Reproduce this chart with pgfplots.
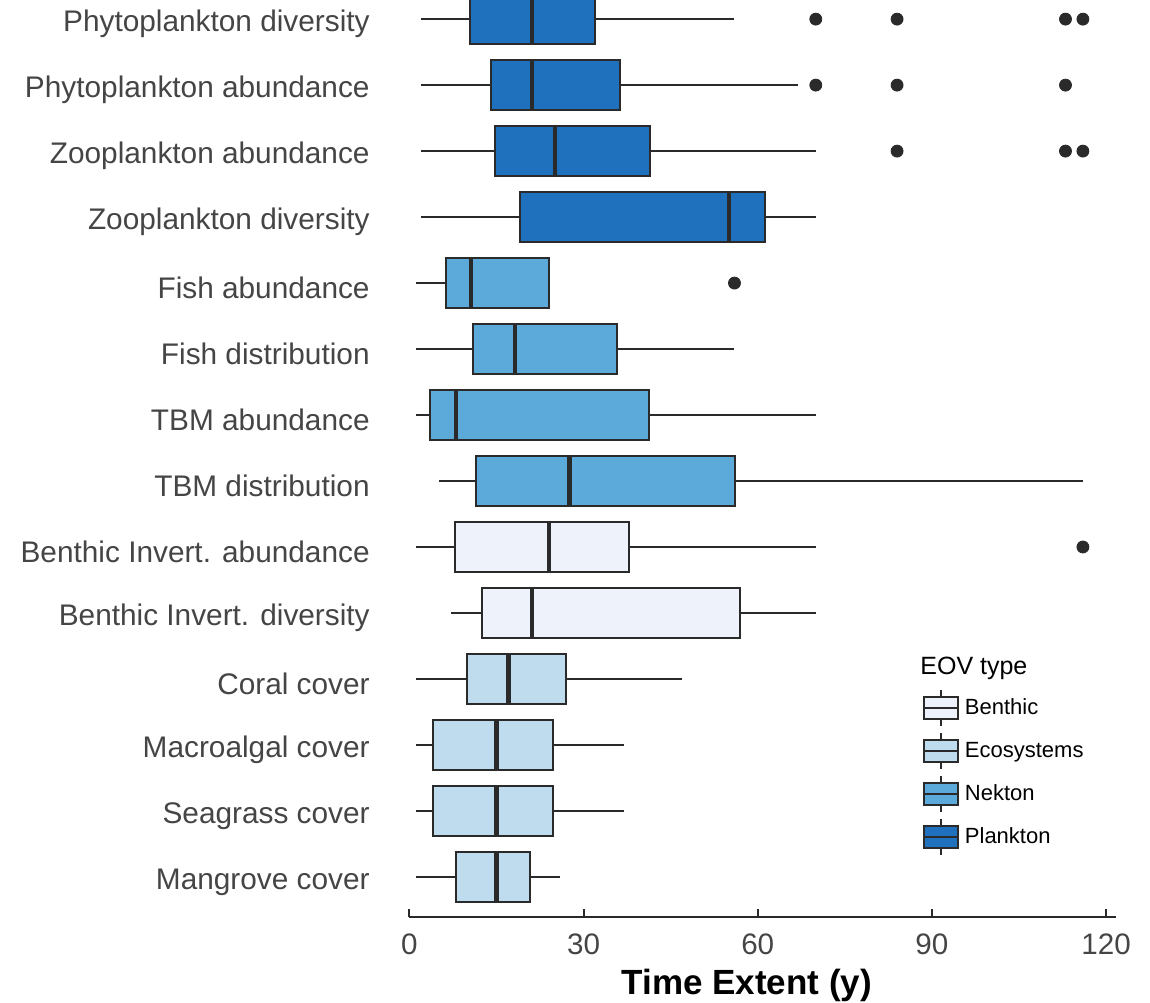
\documentclass[border=0pt]{standalone}
\usepackage{pgfplots}
\pgfplotsset{compat=1.18}
\usepgfplotslibrary{statistics}
\usepackage{fontspec}
\setmainfont{Liberation Sans}
\definecolor{benthic}{HTML}{EEF3FB}
\definecolor{ecosys}{HTML}{BEDCEE}
\definecolor{nekton}{HTML}{5CAADA}
\definecolor{plankton}{HTML}{1F71BE}
\definecolor{lc}{HTML}{2A2A2A}
\definecolor{labc}{HTML}{454545}
\pgfplotsset{
  legbox/.style={legend image code/.code={
    \draw[line width=0.9pt, draw=lc] (8.5pt,-9pt) -- (8.5pt,9pt);
    \draw[line width=0.9pt, draw=lc, fill=#1] (0pt,-5.4pt) rectangle (17pt,5.4pt);
    \draw[line width=1.1pt, draw=lc] (0pt,0pt) -- (17pt,0pt);
  }},
  bx/.style={boxplot prepared={#1}, draw=lc, line width=1pt, forget plot},
}
\begin{document}
\begin{tikzpicture}
\useasboundingbox (-204.65pt,-42.75pt) rectangle (370.35pt,458.25pt);
\begin{axis}[
  at={(0pt,0pt)}, anchor=south west,
  scale only axis, width=353.35pt, height=458.25pt,
  xmin=0, xmax=121.7, ymin=-0.60, ymax=13.29,
  axis x line*=bottom, axis y line*=left,
  y axis line style={draw=none},
  x axis line style={-, line width=1pt, draw=lc},
  xtick={0,30,60,90,120},
  tick align=inside,
  xtick style={line width=1pt, draw=lc},
  major tick length=4pt,
  ytick={0,...,13}, ytick style={draw=none},
  yticklabels={Mangrove cover, Seagrass cover, Macroalgal cover, Coral cover,
    Benthic Invert. diversity, Benthic Invert. abundance, TBM distribution,
    TBM abundance, Fish distribution, Fish abundance, Zooplankton diversity,
    Zooplankton abundance, Phytoplankton abundance, Phytoplankton diversity},
  yticklabel style={font=\fontsize{14.9}{17}\selectfont, text=labc, xshift=-16.3pt, yshift=-2.5pt},
  xticklabel style={font=\fontsize{14.8}{17}\selectfont, text=labc, yshift=-5.2pt},
  /pgf/number format/assume math mode=true,
  xlabel={\textbf{Time Extent (y)}},
  xlabel style={font=\fontsize{17.5}{20}\selectfont, text=black, at={(axis description cs:0.4774,0)}, anchor=base, yshift=-39pt},
  boxplot/draw direction=x,
  boxplot/box extend=0.758,
  boxplot/whisker extend=0,
  boxplot/every median/.style={line width=2.2pt},
  legend style={at={(axis cs:88.35,2.853)}, anchor=north west, draw=none, fill=none,
    inner sep=0pt, row sep=2.6pt, column sep=1pt, font=\fontsize{11}{13}\selectfont,
    text=black},
  legend cell align=left,
]
% Plankton
\addplot[bx={draw position=13, lower whisker=2.1, lower quartile=10.5, median=21.1, upper quartile=31.9, upper whisker=56.0}, fill=plankton] coordinates {};
\addplot[bx={draw position=12, lower whisker=2.1, lower quartile=14.0, median=21.1, upper quartile=36.2, upper whisker=67.0}, fill=plankton] coordinates {};
\addplot[bx={draw position=11, lower whisker=2.1, lower quartile=14.8, median=25.1, upper quartile=41.4, upper whisker=70.0}, fill=plankton] coordinates {};
\addplot[bx={draw position=10, lower whisker=2.1, lower quartile=19.0, median=55.1, upper quartile=61.2, upper whisker=70.0}, fill=plankton] coordinates {};
% Nekton
\addplot[bx={draw position=9, lower whisker=1.1, lower quartile=6.3, median=10.6, upper quartile=24.0, upper whisker=24.0}, fill=nekton] coordinates {};
\addplot[bx={draw position=8, lower whisker=1.1, lower quartile=11.0, median=18.2, upper quartile=35.7, upper whisker=56.0}, fill=nekton] coordinates {};
\addplot[bx={draw position=7, lower whisker=1.1, lower quartile=3.6, median=8.0, upper quartile=41.2, upper whisker=70.0}, fill=nekton] coordinates {};
\addplot[bx={draw position=6, lower whisker=5.1, lower quartile=11.5, median=27.6, upper quartile=56.1, upper whisker=116.0}, fill=nekton] coordinates {};
% Benthic
\addplot[bx={draw position=5, lower whisker=1.1, lower quartile=7.8, median=24.1, upper quartile=37.9, upper whisker=70.0}, fill=benthic] coordinates {};
\addplot[bx={draw position=4, lower whisker=7.1, lower quartile=12.5, median=21.1, upper quartile=56.9, upper whisker=70.0}, fill=benthic] coordinates {};
% Ecosystems
\addplot[bx={draw position=3, lower whisker=1.1, lower quartile=10.0, median=17.1, upper quartile=26.9, upper whisker=47.0}, fill=ecosys] coordinates {};
\addplot[bx={draw position=2, lower whisker=1.1, lower quartile=4.0, median=15.0, upper quartile=24.7, upper whisker=37.0}, fill=ecosys] coordinates {};
\addplot[bx={draw position=1, lower whisker=1.1, lower quartile=4.0, median=15.0, upper quartile=24.7, upper whisker=37.0}, fill=ecosys] coordinates {};
\addplot[bx={draw position=0, lower whisker=1.1, lower quartile=8.0, median=15.0, upper quartile=20.7, upper whisker=26.0}, fill=ecosys] coordinates {};
% Outliers
\addplot[only marks, mark=*, mark size=3pt, mark options={fill=lc, draw=lc}, forget plot] coordinates {
  (70,13) (84,13) (113,13) (116,13)
  (70,12) (84,12) (113,12)
  (84,11) (113,11) (116,11)
  (56,9)
  (116,5)
};
\addlegendimage{legbox=benthic}\addlegendentry{Benthic}
\addlegendimage{legbox=ecosys}\addlegendentry{Ecosystems}
\addlegendimage{legbox=nekton}\addlegendentry{Nekton}
\addlegendimage{legbox=plankton}\addlegendentry{Plankton}
\node[anchor=base west, inner sep=0pt, font=\fontsize{12.5}{15}\selectfont, text=black] at (axis cs:87.95,3.065) {EOV type};
\end{axis}
\end{tikzpicture}
\end{document}
